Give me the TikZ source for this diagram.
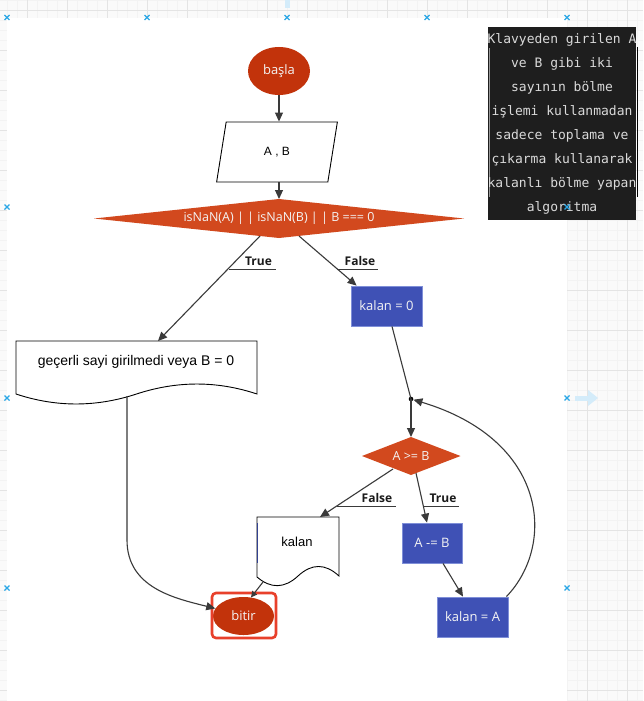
\documentclass[tikz,border=0pt]{standalone}
\usepackage{fontspec}
\setmainfont{Open Sans}
\newfontfamily\arialfont{Liberation Sans}
\newfontfamily\notefont{DejaVu Sans Mono}
\usetikzlibrary{shapes.geometric,arrows.meta}

\definecolor{termfill}{HTML}{C2330B}
\definecolor{decfill}{HTML}{D2491E}
\definecolor{procfill}{HTML}{3F51B5}
\definecolor{procedge}{HTML}{7F8FD8}
\definecolor{edgecol}{HTML}{3A3A3A}
\definecolor{markblue}{HTML}{2AA7E6}
\definecolor{hintblue}{HTML}{D4ECFA}
\definecolor{gridminor}{HTML}{F3F3F3}
\definecolor{gridmajor}{HTML}{E4E4E4}
\definecolor{pagebg}{HTML}{FAFAFA}
\definecolor{notebg}{HTML}{1E1E1E}
\definecolor{notetext}{HTML}{DADADA}
\definecolor{selred}{HTML}{E8402B}
\definecolor{shapetext}{HTML}{F4F4F4}
\definecolor{labeltext}{HTML}{1A1A1A}

\begin{document}
\begin{tikzpicture}[x=1pt,y=-1pt,
  terminal/.style={ellipse, fill=termfill, inner sep=0pt, text=shapetext,
    font=\fontsize{13}{15}\selectfont},
  process/.style={rectangle, fill=procfill, draw=procedge, line width=0.8pt,
    inner sep=0pt, text=shapetext, font=\fontsize{13}{15}\selectfont},
  decision/.style={fill=decfill},
  dectext/.style={inner sep=0pt, text=shapetext, font=\fontsize{12.5}{15}\selectfont},
  plaintext/.style={inner sep=0pt, text=black, font=\arialfont\fontsize{13}{15}\selectfont},
  docshape/.style={fill=white, draw=black, line width=0.9pt},
  edge/.style={draw=edgecol, line width=1.1pt, -{Triangle[length=9pt,width=8pt]}},
  smalledge/.style={draw=edgecol, line width=1.1pt, -{Triangle[length=6pt,width=6pt]}},
  plainedge/.style={draw=edgecol, line width=1.1pt},
  branchlabel/.style={inner sep=0pt, text=labeltext, font=\bfseries\fontsize{12}{14}\selectfont},
  underline/.style={draw=edgecol, line width=1pt},
  notetextstyle/.style={inner sep=0pt, anchor=base, text=notetext,
    font=\notefont\fontsize{13}{15}\selectfont},
  marker/.style={draw=markblue, line width=1.1pt},
]
\useasboundingbox (0,0) rectangle (643,701);

% editor background with grid
\fill[pagebg] (0,0) rectangle (643,701);
\foreach \x in {7,17,...,643} \draw[gridminor, line width=0.6pt] (\x,0) -- (\x,701);
\foreach \y in {0,10,...,700} \draw[gridminor, line width=0.6pt] (0,\y) -- (643,\y);
\foreach \x in {27,67,...,643} \draw[gridmajor, line width=0.7pt] (\x,0) -- (\x,701);
\foreach \y in {10,50,...,700} \draw[gridmajor, line width=0.7pt] (0,\y) -- (643,\y);

% drawing sheet
\fill[white] (7,18) rectangle (567,701);

% hover hints
\fill[hintblue] (285,0) rectangle (290,8);
\fill[hintblue] (575,395.5) rectangle (588,400.5);
\fill[hintblue] (588,390) -- (598,398) -- (588,406) -- cycle;

% description note
\fill[notebg] (488,27) rectangle (636,220);
\draw[black, line width=0.8pt] (637,47) -- (637,197);
\draw[black!40, line width=0.6pt] (489,48) -- (489,197);
\foreach \t [count=\i from 0] in {Klavyeden girilen A, ve B gibi iki, sayının bölme,
  işlemi kullanmadan, sadece toplama ve, çıkarma kullanarak, kalanlı bölme yapan, algoritma}
  \node[notetextstyle] (note\i) at (562,{43.5+24*\i}) {\t};

% ---------- shapes ----------
\node[terminal, minimum width=62pt, minimum height=48pt] (basla) at (279,71) {başla};

\node[trapezium, draw=black, fill=white, line width=0.9pt,
  trapezium left angle=76, trapezium right angle=104, trapezium stretches=true,
  minimum width=121pt, minimum height=60pt, inner sep=0pt,
  font=\arialfont\fontsize{12}{14}\selectfont] (ab) at (277,152) {A , B};

% first decision
\fill[decision] (94,218.5) -- (279,199) -- (464,218.5) -- (279,238) -- cycle;
\node[dectext] (cond) at (279,218) {isNaN(A) | | isNaN(B) | | B === 0};
\coordinate (d1top) at (279,199);
\coordinate (d1sw) at (260,236);
\coordinate (d1se) at (299,236);

\node[process, minimum width=71pt, minimum height=40pt] (k0) at (386.5,306) {kalan = 0};

% output: invalid input
\draw[docshape] (16,341) -- (257,341) -- (257,394)
  .. controls (217,380.7) and (177,380.7) .. (136.5,394)
  .. controls (96,407.3) and (56,407.3) .. (16,394) -- cycle;
\node[plaintext, font=\arialfont\fontsize{14}{16}\selectfont] (err) at (136,362)
  {geçerli sayi girilmedi veya B = 0};
\coordinate (errin) at (158,341);
\coordinate (errout) at (127,396);

% loop junction
\coordinate (j) at (411,399);
\fill[black] (j) circle (2.3pt);

% second decision
\fill[decision] (362,456) -- (411,437) -- (460.5,456) -- (411,475) -- cycle;
\node[dectext] (cmp) at (411,456) {A >= B};
\coordinate (d2top) at (411,437);
\coordinate (d2sw) at (393,469);
\coordinate (d2se) at (416,473);

\node[process, minimum width=60pt, minimum height=40pt] (am) at (432,543) {A -= B};
\node[process, minimum width=71pt, minimum height=40pt] (ka) at (472.5,617) {kalan = A};

% output: remainder
\draw[docshape] (257,517) -- (339,517) -- (339,576)
  .. controls (325.3,563.3) and (311.7,563.3) .. (298,576)
  .. controls (284.3,588.7) and (270.7,588.7) .. (257,577) -- cycle;
\draw[draw=procfill!80!black, line width=1.2pt] (257.5,523) -- (257.5,563);
\node[plaintext] (rem) at (297,542) {kalan};
\coordinate (remin) at (320,517);
\coordinate (remout) at (263,582);

% end
\node[terminal, minimum width=61pt, minimum height=38pt] (bitir) at (243.5,616) {bitir};
\draw[selred, line width=2.6pt, rounded corners=4pt] (212,593) rectangle (276,638);

% ---------- connectors ----------
\draw[edge] (basla.south) -- (basla.south |- ab.north);
\draw[edge] (d1top |- ab.south) -- (d1top);
\draw[edge] (d1sw) -- (errin);
\draw[edge] (d1se) -- ([xshift=6pt]k0.north west);
\draw[plainedge] ([xshift=5.5pt]k0.south) -- (j);
\draw[edge] (j) -- (d2top);
\draw[edge] (d2sw) -- (remin);
\draw[edge] (d2se) -- ([xshift=-5pt]am.north);
\draw[edge] ([xshift=11pt]am.south) -- ([xshift=-9.5pt]ka.north);
\draw[edge, shorten >=2.5pt] ([xshift=-2pt]ka.north east)
  .. controls (556,545) and (548,440) .. (j);
\draw[edge] (errout) -- ++(0,144) .. controls +(0,48) and +(-40,-10) .. (bitir.165);
\draw[smalledge] (remout) -- (bitir.68);

% branch labels
\node[branchlabel] (t1) at (258.5,261) {True};
\draw[underline] (229,269) -- (276,269);
\node[branchlabel] (f1) at (360,261) {False};
\draw[underline] (337,269) -- (378,269);
\node[branchlabel] (f2) at (377,498) {False};
\draw[underline] (337,506) -- (396,506);
\node[branchlabel] (t2) at (443,498) {True};
\draw[underline] (423,506) -- (459,506);

% grid anchors of the editor
\foreach \mx/\my in {7/17.5,147/17.5,287/17.5,427/17.5,567/17.5,7/207,567/207,7/398,567/398,7/588,567/588}
  \draw[marker] (\mx-2.5,\my-2.5) -- (\mx+2.5,\my+2.5) (\mx-2.5,\my+2.5) -- (\mx+2.5,\my-2.5);
\end{tikzpicture}
\end{document}
